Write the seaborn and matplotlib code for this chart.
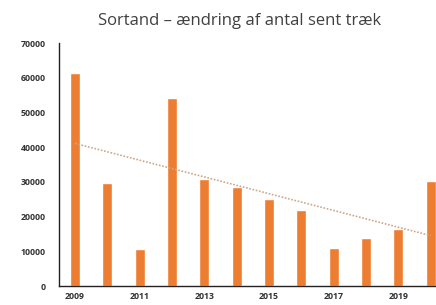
import numpy as np
import pandas as pd
import matplotlib.pyplot as plt
import seaborn as sns

# Sortand - late migration counts per year
years = [2009, 2010, 2011, 2012, 2013, 2014, 2015, 2016, 2017, 2018, 2019, 2020]
counts = [61500, 29800, 10800, 54200, 30800, 28400, 25000, 21900, 10900, 13800, 16300, 30300]
year_labels = ['2009', '', '2011', '', '2013', '', '2015', '', '2017', '', '2019', '']
yticks = [0, 10000, 20000, 30000, 40000, 50000, 60000, 70000]

df = pd.DataFrame({'year': years, 'count': counts})
df['pos'] = np.arange(len(df))

sns.set_style('white')
plt.rcParams['font.family'] = ['Open Sans', 'DejaVu Sans']

fig = plt.figure(figsize=(4.36, 3.05), dpi=100)
ax = fig.add_axes([0.135, 0.062, 0.89, 0.797])

sns.barplot(data=df, x='pos', y='count', color='#ed7d31', saturation=1,
            width=0.31, ax=ax)
# linear trend line
sns.regplot(data=df, x='pos', y='count', scatter=False, ci=None, ax=ax,
            line_kws=dict(color='#c9a88e', lw=1.2, ls=(0, (1, 1))))

ax.set_xlim(-0.5, len(years) - 0.5)
ax.set_ylim(0, 70000)
ax.set_yticks(yticks)
ax.set_yticklabels([str(v) for v in yticks], fontsize=6.3, fontweight='bold', color='#333333')
ax.set_xticks(df['pos'])
ax.set_xticklabels(year_labels, fontsize=6.3, fontweight='bold', color='#333333')
ax.set_xticks(df['pos'][:-1] + 0.5, minor=True)
ax.tick_params(axis='x', which='major', length=0, pad=4)
ax.tick_params(axis='x', which='minor', length=3, width=0.8, direction='inout', color='#222222')
ax.tick_params(axis='y', length=3, width=0.8, direction='inout', color='#222222', pad=8)
ax.set_xlabel('')
ax.set_ylabel('')

for side in ['top', 'right']:
    ax.spines[side].set_visible(False)
for side in ['left', 'bottom']:
    ax.spines[side].set_color('#222222')
    ax.spines[side].set_linewidth(1.0)

fig.text(0.55, 0.93, 'Sortand – ændring af antal sent træk', ha='center', va='center',
         fontsize=12, color='#404040')

fig.savefig('out.png', dpi=100)
